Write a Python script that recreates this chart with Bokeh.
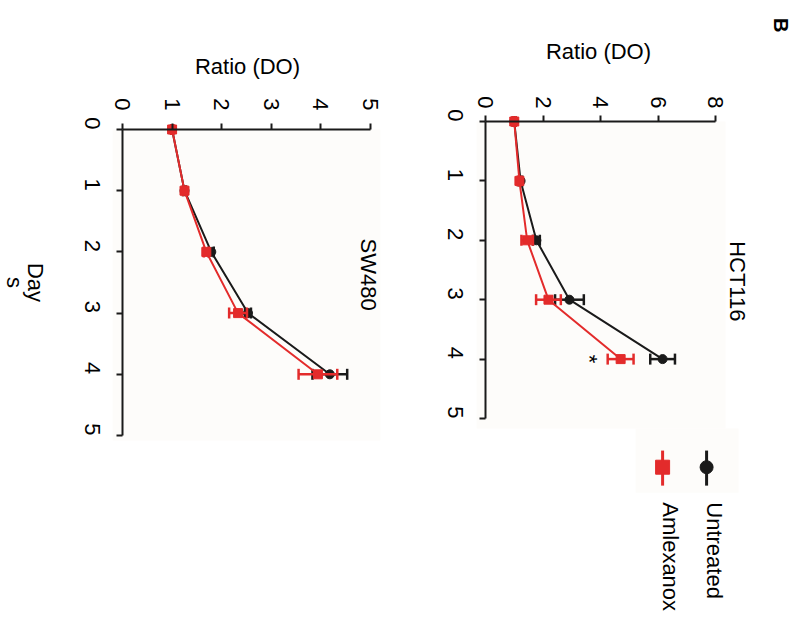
import math
from bokeh.plotting import figure
from bokeh.models import Range1d, FixedTicker, Label, ColumnDataSource
from bokeh.layouts import row
from bokeh.embed import file_html
from bokeh.resources import INLINE

# ---------------- data ----------------
days = [0, 1, 2, 3, 4]
day_ticks = [0, 1, 2, 3, 4, 5]
hct_ticks = [0, 2, 4, 6, 8]
sw_ticks = [0, 1, 2, 3, 4, 5]

hct_untreated = [1.00, 1.22, 1.77, 2.92, 6.16]
hct_untreated_err = [0.05, 0.06, 0.12, 0.50, 0.43]
hct_amlexanox = [1.00, 1.18, 1.45, 2.19, 4.70]
hct_amlexanox_err = [0.05, 0.06, 0.20, 0.43, 0.45]

sw_untreated = [1.00, 1.25, 1.79, 2.53, 4.18]
sw_untreated_err = [0.02, 0.03, 0.05, 0.06, 0.35]
sw_amlexanox = [1.00, 1.25, 1.69, 2.33, 3.94]
sw_amlexanox_err = [0.02, 0.03, 0.05, 0.18, 0.39]

series_names = ["Untreated", "Amlexanox"]
panel_titles = ["HCT116", "SW480"]
axis_title = "Ratio (DO)"
day_title = ["Day", "s"]

BLACK = "#1a1a1a"
RED = "#e32b2b"
PANEL_BG = "#fdfcfa"
FONT = "Liberation Sans"
FS = "22px"
ROT = -math.pi / 2
OFF = 0  # page offset of the layout


def make_fig(W, H, canvas_x0, px0, sx, py0, sy):
    """Figure whose frame covers the whole canvas; ratio 0 at page px0, day 0 at page py0."""
    cx0 = px0 - canvas_x0 - OFF
    cy0 = py0 - OFF
    xr = Range1d(-cx0 / sx, (W - cx0) / sx)
    yr = Range1d((H - cy0) / sy, -cy0 / sy)
    p = figure(width=W, height=H, x_range=xr, y_range=yr,
               x_axis_location="above", y_axis_location="left",
               output_backend="svg", toolbar_location=None,
               min_border_left=0, min_border_right=0,
               min_border_top=0, min_border_bottom=0)
    p.xgrid.visible = False
    p.ygrid.visible = False
    p.outline_line_color = None
    p.background_fill_color = "white"
    p.border_fill_color = "white"
    return p


def style_axes(p, xticks, x_std, y_std):
    p.xaxis.ticker = FixedTicker(ticks=xticks)
    p.yaxis.ticker = FixedTicker(ticks=day_ticks)
    p.xaxis.bounds = (xticks[0], xticks[-1])
    p.yaxis.bounds = (day_ticks[0], day_ticks[-1])
    p.xaxis.fixed_location = 0
    p.yaxis.fixed_location = 0
    for ax in (p.xaxis[0], p.yaxis[0]):
        ax.major_label_orientation = ROT
        ax.major_label_text_font = FONT
        ax.major_label_text_font_size = FS
        ax.major_label_text_color = "black"
        ax.axis_line_width = 2
        ax.axis_line_color = BLACK
        ax.major_tick_line_width = 2
        ax.major_tick_line_color = BLACK
        ax.major_tick_out = 6
        ax.major_tick_in = 0
        ax.minor_tick_line_color = None
    p.xaxis.major_label_standoff = x_std
    p.yaxis.major_label_standoff = y_std


def panel_bg(p, x0, x1, y1):
    p.quad(left=[x0], right=[x1], top=[0], bottom=[y1], fill_color=PANEL_BG, line_color=None)


def draw(p, vals, errs, color, marker, size):
    lo = [v - e for v, e in zip(vals, errs)]
    hi = [v + e for v, e in zip(vals, errs)]
    src = ColumnDataSource(dict(day=days, v=vals, lo=lo, hi=hi))
    p.segment(x0="lo", y0="day", x1="hi", y1="day", source=src,
              line_color=color, line_width=2.5)
    for col in ("lo", "hi"):
        p.scatter(x=col, y="day", marker="dash", angle=math.pi / 2, size=11,
                  line_color=color, line_width=2.5, source=src)
    p.line(x="v", y="day", source=src, line_color=color, line_width=2)
    p.scatter(x="v", y="day", marker=marker, size=size, fill_color=color,
              line_color=color, source=src)


def txt(p, x, y, text, angle=ROT, **kw):
    opts = dict(angle=angle, text_align="center", text_baseline="middle",
                text_font=FONT, text_font_size=FS, text_color="black")
    opts.update(kw)
    p.add_layout(Label(x=x, y=y, text=text, **opts))


# ---------------- SW480 panel (left) ----------------
pa = make_fig(388, 616, 0, 122, 248 / 5, 129, 306 / 5)
panel_bg(pa, -0.2, 5.2, 5.08)
style_axes(pa, sw_ticks, 13, 24)
draw(pa, sw_untreated, sw_untreated_err, BLACK, "circle", 9)
draw(pa, sw_amlexanox, sw_amlexanox_err, RED, "square", 9)
txt(pa, 4.96, 2.37, panel_titles[1])
txt(pa, 2.52, -1.03, axis_title, angle=0)
txt(pa, -1.75, 2.5, day_title[0])
txt(pa, -2.17, 2.5, day_title[1])

# ---------------- HCT116 panel (right) ----------------
pb = make_fig(411, 616, 388, 485, 230 / 8, 121, 297 / 5)
panel_bg(pb, -0.31, 8.35, 5.17)
style_axes(pb, hct_ticks, 7, 24)
draw(pb, hct_untreated, hct_untreated_err, BLACK, "circle", 9)
draw(pb, hct_amlexanox, hct_amlexanox_err, RED, "square", 9)
txt(pb, 8.77, 2.69, panel_titles[0])
txt(pb, 3.93, -1.18, axis_title, angle=0)
txt(pb, 3.62, 4.0, "*")
txt(pb, 10.27, -1.62, "B", text_font_style="bold", text_font_size="20px")

# ---------------- legend (below HCT116, in its coordinates) ----------------
pb.quad(left=[5.22], right=[8.8], top=[5.17], bottom=[6.25], fill_color=PANEL_BG, line_color=None)
leg_x = [7.69, 6.16]
leg_colors = [BLACK, RED]
leg_markers = ["circle", "square"]
leg_sizes = [13, 14]
for i in range(2):
    pb.segment(x0=[leg_x[i]], y0=[5.54], x1=[leg_x[i]], y1=[6.13],
               line_color=leg_colors[i], line_width=3)
    pb.scatter(x=[leg_x[i]], y=[5.82], marker=leg_markers[i], size=leg_sizes[i],
               fill_color=leg_colors[i], line_color=leg_colors[i])
    txt(pb, leg_x[i] + 0.28, 6.41, series_names[i], text_align="left")

layout = row(pa, pb)
open("out.html", "w").write(file_html(layout, INLINE))
